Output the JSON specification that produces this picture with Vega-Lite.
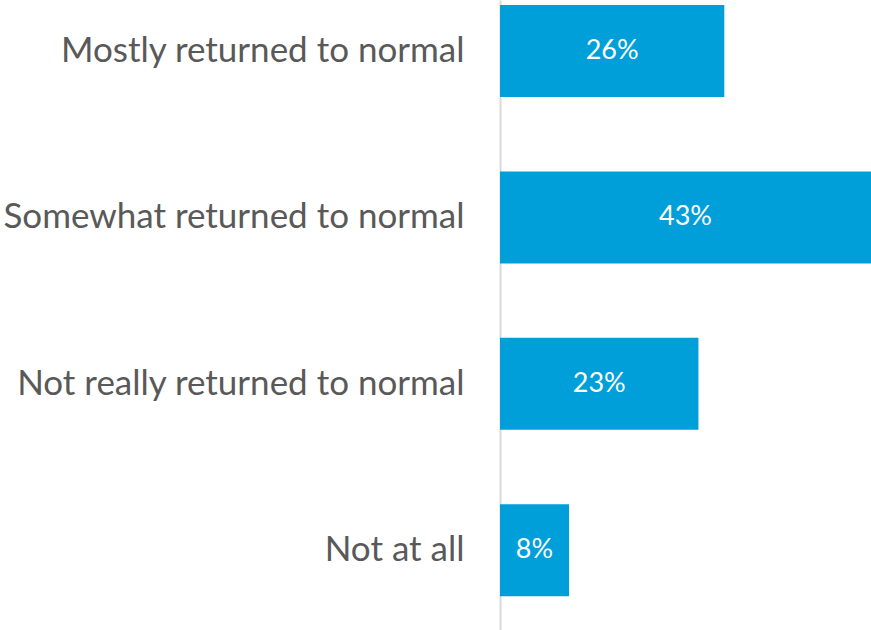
{
  "$schema": "https://vega.github.io/schema/vega-lite/v6.json",
  "width": 371,
  "height": 630,
  "autosize": {"type": "none"},
  "padding": {"left": 500, "top": 0, "right": 0, "bottom": 0},
  "background": "white",
  "config": {"view": {"stroke": null}},
  "data": {
    "values": [
      {"category": "Mostly returned to normal", "value": 26},
      {"category": "Somewhat returned to normal", "value": 43},
      {"category": "Not really returned to normal", "value": 23},
      {"category": "Not at all", "value": 8}
    ]
  },
  "transform": [
    {"calculate": "datum.value / 2", "as": "mid"},
    {"calculate": "datum.value + '%'", "as": "label"}
  ],
  "encoding": {
    "y": {
      "field": "category",
      "type": "nominal",
      "sort": null,
      "scale": {"paddingInner": 0.447, "paddingOuter": 0.117, "align": 0.13},
      "axis": {
        "title": null,
        "ticks": false,
        "domainColor": "#d9d9d9",
        "domainWidth": 2,
        "labelFont": "Lato",
        "labelFontSize": 35,
        "labelColor": "#595959",
        "labelPadding": 36,
        "labelLimit": 600
      }
    }
  },
  "layer": [
    {
      "mark": {"type": "bar", "color": "#009fd9"},
      "encoding": {
        "x": {"field": "value", "type": "quantitative", "scale": {"domain": [0, 43], "nice": false}, "axis": null}
      }
    },
    {
      "mark": {"type": "text", "color": "white", "font": "Lato", "fontSize": 27, "align": "center", "baseline": "middle"},
      "encoding": {
        "x": {"field": "mid", "type": "quantitative"},
        "text": {"field": "label"}
      }
    }
  ]
}
